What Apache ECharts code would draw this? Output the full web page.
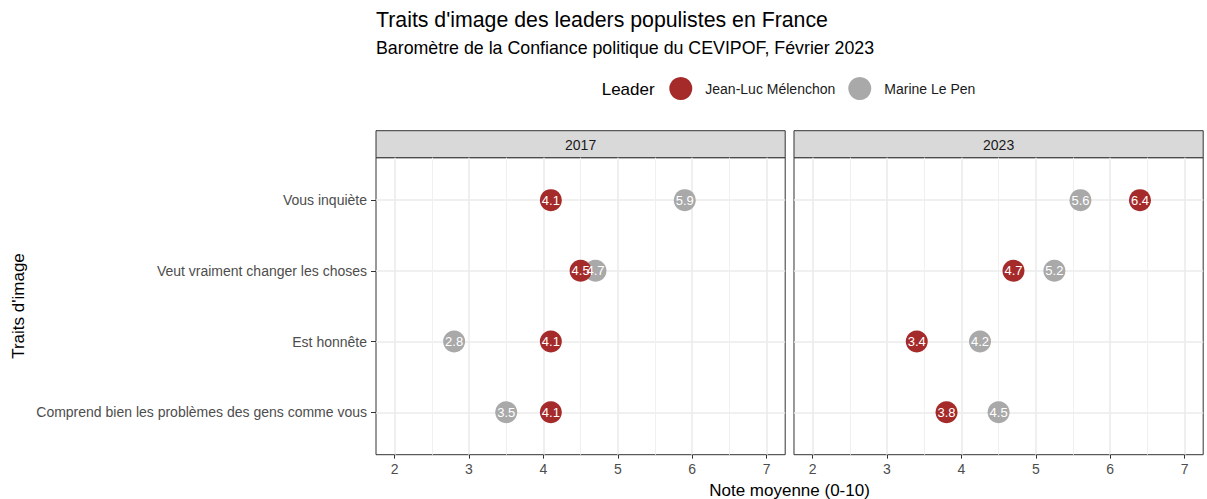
<!DOCTYPE html>
<html>
<head>
<meta charset="utf-8">
<script src="https://cdn.jsdelivr.net/npm/echarts@6/dist/echarts.min.js"></script>
<style>html,body{margin:0;padding:0;background:#fff;}#c{width:1207px;height:499px;}</style>
</head>
<body>
<div id="c"></div>
<script>
const categories = ['Vous inquiète', 'Veut vraiment changer les choses', 'Est honnête', 'Comprend bien les problèmes des gens comme vous'];
const years = ['2017', '2023'];
const leaders = ['Jean-Luc Mélenchon', 'Marine Le Pen'];
const jlm2017 = [4.1, 4.5, 4.1, 4.1];
const mlp2017 = [5.9, 4.7, 2.8, 3.5];
const jlm2023 = [6.4, 4.7, 3.4, 3.8];
const mlp2023 = [5.6, 5.25, 4.25, 4.5];
const xTicks = [2, 3, 4, 5, 6, 7];
const xMinor = [2.5, 3.5, 4.5, 5.5, 6.5];
const yTicks = [1, 2, 3, 4];

const FONT = '"Liberation Sans", Arial, Helvetica, sans-serif';
const RED = '#A52A2A', GREY = '#A9A9A9';
const panels = [{left: 376, year: years[0]}, {left: 794, year: years[1]}];
const PW = 409.2, PT = 157.7, PH = 297;

function pts(arr) { return arr.map((v, i) => [v, i + 1]); }
function fmt(p) { return (Math.floor(p.value[0] * 10 + 1e-6) / 10).toFixed(1); }

const chart = echarts.init(document.getElementById('c'), null, {renderer: 'svg'});

const grid = panels.map(p => ({left: p.left, top: PT, width: PW, height: PH, show: true,
  backgroundColor: '#fff', borderColor: '#333333', borderWidth: 1, containLabel: false}));

const majorX = panels.map((p, i) => ({
  type: 'value', gridIndex: i, min: 1.75, max: 7.25, position: 'bottom',
  axisLine: {show: false},
  axisTick: {show: true, customValues: xTicks, length: 4, lineStyle: {color: '#333333', width: 1}},
  axisLabel: {show: true, customValues: xTicks, margin: 7, color: '#4D4D4D', fontSize: 14, fontFamily: FONT},
  splitLine: {show: true, lineStyle: {color: '#EBEBEB', width: 1.6}}
}));
const minorX = panels.map((p, i) => ({
  type: 'value', gridIndex: i, min: 1.75, max: 7.25, position: 'bottom',
  axisLine: {show: false},
  axisTick: {show: false, customValues: xMinor},
  axisLabel: {show: false},
  splitLine: {show: true, lineStyle: {color: '#F0F0F0', width: 1}}
}));
const yAxes = panels.map((p, i) => ({
  type: 'value', gridIndex: i, min: 0.4, max: 4.6, inverse: true,
  axisLine: {show: false},
  axisTick: {show: i === 0, customValues: yTicks, length: 5, lineStyle: {color: '#333333', width: 1}},
  axisLabel: {show: i === 0, customValues: yTicks, margin: 9, color: '#4D4D4D', fontSize: 14, fontFamily: FONT,
    formatter: v => categories[Math.round(v) - 1] || ''},
  splitLine: {show: true, lineStyle: {color: '#EBEBEB', width: 1.6}}
}));

const labelCfg = {show: true, position: 'inside', color: '#fff', fontSize: 13, fontFamily: FONT, formatter: fmt};
function series(name, data, idx, color) {
  return {type: 'scatter', name: name, xAxisIndex: idx, yAxisIndex: idx, data: pts(data),
    symbol: 'circle', symbolSize: 22, itemStyle: {color: color, opacity: 1}, label: labelCfg,
    emphasis: {disabled: true}};
}

const graphics = [];
panels.forEach(p => {
  graphics.push({type: 'rect', shape: {x: p.left, y: 130.7, width: PW, height: 27},
    style: {fill: '#D9D9D9', stroke: '#333333', lineWidth: 1}, silent: true});
  graphics.push({type: 'text', x: p.left + PW / 2, y: 144.5, silent: true,
    style: {text: p.year, fill: '#1A1A1A', fontSize: 14, fontFamily: FONT, textAlign: 'center', textVerticalAlign: 'middle'}});
});
graphics.push({type: 'text', x: 376, y: 19.5, silent: true,
  style: {text: "Traits d'image des leaders populistes en France", fill: '#000', fontSize: 21.3, fontFamily: FONT, textAlign: 'left', textVerticalAlign: 'middle'}});
graphics.push({type: 'text', x: 376, y: 47.5, silent: true,
  style: {text: 'Baromètre de la Confiance politique du CEVIPOF, Février 2023', fill: '#000', fontSize: 17.8, fontFamily: FONT, textAlign: 'left', textVerticalAlign: 'middle'}});
graphics.push({type: 'text', x: 601.7, y: 89.5, silent: true,
  style: {text: 'Leader', fill: '#000', fontSize: 17, fontFamily: FONT, textAlign: 'left', textVerticalAlign: 'middle'}});
graphics.push({type: 'text', x: 789.5, y: 490, silent: true,
  style: {text: 'Note moyenne (0-10)', fill: '#000', fontSize: 17, fontFamily: FONT, textAlign: 'center', textVerticalAlign: 'middle'}});
graphics.push({type: 'text', x: 18, y: 306, rotation: Math.PI / 2, silent: true,
  style: {text: "Traits d'image", fill: '#000', fontSize: 17, fontFamily: FONT, textAlign: 'center', textVerticalAlign: 'middle'}});

chart.setOption({
  animation: false,
  backgroundColor: '#fff',
  textStyle: {fontFamily: FONT},
  grid: grid,
  xAxis: majorX.concat(minorX),
  yAxis: yAxes,
  legend: {data: leaders, left: 669.3, top: 77, padding: 0, itemWidth: 23, itemHeight: 23, itemGap: 13, icon: 'circle',
    selectedMode: false, textStyle: {fontSize: 14, color: '#1A1A1A', fontFamily: FONT, padding: [0, 0, 0, 8]}},
  graphic: graphics,
  series: [
    series(leaders[1], mlp2017, 0, GREY),
    series(leaders[0], jlm2017, 0, RED),
    series(leaders[1], mlp2023, 1, GREY),
    series(leaders[0], jlm2023, 1, RED)
  ]
});
</script>
</body>
</html>
